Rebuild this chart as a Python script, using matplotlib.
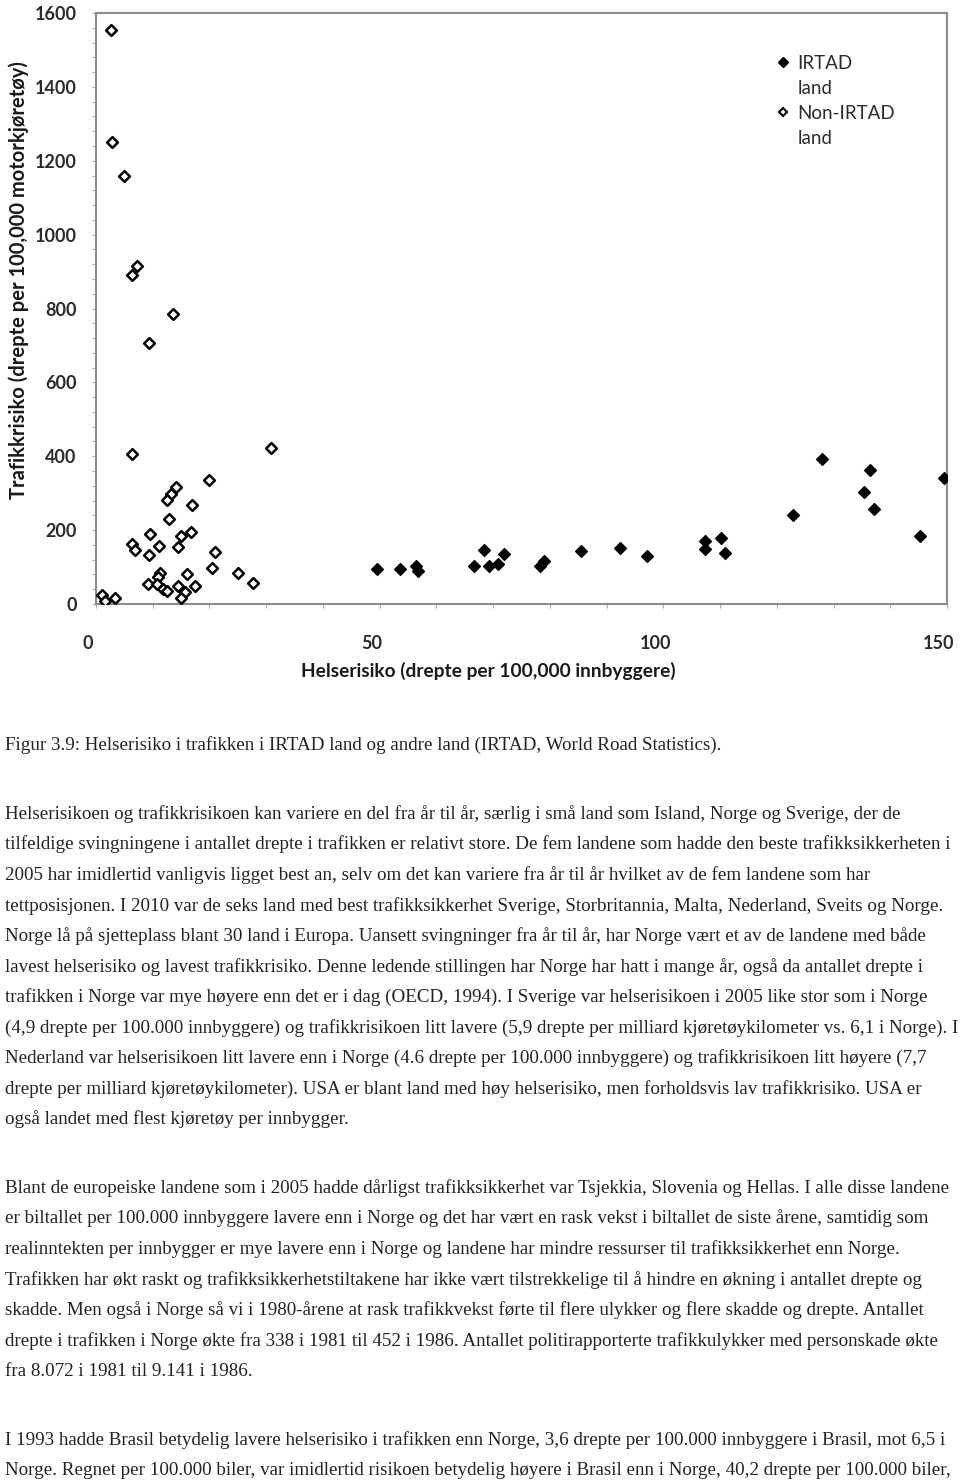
import matplotlib
matplotlib.use("Agg")
import matplotlib.pyplot as plt
from matplotlib.lines import Line2D
from matplotlib.ticker import MultipleLocator
import matplotlib.transforms as mtransforms

# IRTAD countries (filled diamonds)
irtad_x = [49.6, 53.6, 56.4, 56.7, 66.6, 68.4, 69.3, 70.9, 71.9, 78.3, 78.9, 85.4, 92.4, 97.2,
           107.4, 107.4, 110.1, 110.9, 122.9, 128.0, 136.4, 135.4, 137.2, 145.2, 149.5]
irtad_y = [95, 95, 103, 88, 104, 146, 103, 108, 136, 104, 117, 143, 151, 130,
           171, 148, 179, 137, 241, 392, 363, 303, 258, 184, 342]

# non-IRTAD countries (open diamonds)
non_x = [2.6, 2.8, 5.0, 7.3, 6.4, 13.6, 9.3, 6.3, 30.8, 20.0, 14.1, 13.3, 12.6, 16.9, 12.9,
         9.6, 16.7, 14.9, 6.3, 6.8, 11.1, 14.5, 9.4, 21.0, 20.5, 25.1, 27.7, 11.2, 11.0, 16.0,
         9.2, 10.8, 11.8, 12.6, 14.4, 17.5, 15.7, 14.9, 1.1, 1.6, 3.3]
non_y = [1555, 1250, 1159, 915, 891, 786, 707, 407, 423, 336, 316, 298, 282, 268, 230,
         189, 196, 184, 163, 145, 156, 155, 133, 142, 97, 85, 56, 83, 72, 80,
         53, 53, 40, 35, 49, 49, 33, 17, 25, 8, 16]

caption = "Figur 3.9: Helserisiko i trafikken i IRTAD land og andre land (IRTAD, World Road Statistics)."

para1 = [
    "Helserisikoen og trafikkrisikoen kan variere en del fra år til år, særlig i små land som Island, Norge og Sverige, der de",
    "tilfeldige svingningene i antallet drepte i trafikken er relativt store. De fem landene som hadde den beste trafikksikkerheten i",
    "2005 har imidlertid vanligvis ligget best an, selv om det kan variere fra år til år hvilket av de fem landene som har",
    "tettposisjonen. I 2010 var de seks land med best trafikksikkerhet Sverige, Storbritannia, Malta, Nederland, Sveits og Norge.",
    "Norge lå på sjetteplass blant 30 land i Europa. Uansett svingninger fra år til år, har Norge vært et av de landene med både",
    "lavest helserisiko og lavest trafikkrisiko. Denne ledende stillingen har Norge har hatt i mange år, også da antallet drepte i",
    "trafikken i Norge var mye høyere enn det er i dag (OECD, 1994). I Sverige var helserisikoen i 2005 like stor som i Norge",
    "(4,9 drepte per 100.000 innbyggere) og trafikkrisikoen litt lavere (5,9 drepte per milliard kjøretøykilometer vs. 6,1 i Norge). I",
    "Nederland var helserisikoen litt lavere enn i Norge (4.6 drepte per 100.000 innbyggere) og trafikkrisikoen litt høyere (7,7",
    "drepte per milliard kjøretøykilometer). USA er blant land med høy helserisiko, men forholdsvis lav trafikkrisiko. USA er",
    "også landet med flest kjøretøy per innbygger.",
]
para2 = [
    "Blant de europeiske landene som i 2005 hadde dårligst trafikksikkerhet var Tsjekkia, Slovenia og Hellas. I alle disse landene",
    "er biltallet per 100.000 innbyggere lavere enn i Norge og det har vært en rask vekst i biltallet de siste årene, samtidig som",
    "realinntekten per innbygger er mye lavere enn i Norge og landene har mindre ressurser til trafikksikkerhet enn Norge.",
    "Trafikken har økt raskt og trafikksikkerhetstiltakene har ikke vært tilstrekkelige til å hindre en økning i antallet drepte og",
    "skadde. Men også i Norge så vi i 1980-årene at rask trafikkvekst førte til flere ulykker og flere skadde og drepte. Antallet",
    "drepte i trafikken i Norge økte fra 338 i 1981 til 452 i 1986. Antallet politirapporterte trafikkulykker med personskade økte",
    "fra 8.072 i 1981 til 9.141 i 1986.",
]
para3 = [
    "I 1993 hadde Brasil betydelig lavere helserisiko i trafikken enn Norge, 3,6 drepte per 100.000 innbyggere i Brasil, mot 6,5 i",
    "Norge. Regnet per 100.000 biler, var imidlertid risikoen betydelig høyere i Brasil enn i Norge, 40,2 drepte per 100.000 biler,",
]

W, H = 960, 1481
fig = plt.figure(figsize=(W / 100, H / 100), dpi=100)
ax = fig.add_axes([96 / W, 1 - 604 / H, (947 - 96) / W, (604 - 13) / H])

ax.scatter(non_x, non_y, marker="D", s=30, facecolors="white", edgecolors="black",
           linewidths=1.8, zorder=3)
ax.scatter(irtad_x, irtad_y, marker="D", s=36, color="black", zorder=4)

ax.set_xlim(0, 150)
ax.set_ylim(0, 1600)
ax.xaxis.set_major_locator(MultipleLocator(50))
ax.xaxis.set_minor_locator(MultipleLocator(10))
ax.yaxis.set_major_locator(MultipleLocator(200))
ax.yaxis.set_minor_locator(MultipleLocator(40))

for s in ax.spines.values():
    s.set_color("#8c8c8c")
    s.set_linewidth(1.5)

tickfont = dict(family="Lato", weight="bold", size=13)
ax.tick_params(axis="both", which="both", direction="out", colors="#b0b0b0", length=3, width=0.8)
ax.tick_params(axis="y", which="major", pad=11, labelcolor="#2b2b2b")
ax.tick_params(axis="x", which="major", pad=19, labelcolor="#2b2b2b")
for lab in ax.get_xticklabels() + ax.get_yticklabels():
    lab.set_fontproperties(tickfont)
shift = mtransforms.ScaledTranslation(-8 / 100, 0, fig.dpi_scale_trans)
for lab in ax.get_xticklabels():
    lab.set_transform(lab.get_transform() + shift)

ax.set_xlabel("Helserisiko (drepte per 100,000 innbyggere)", family="Lato", weight="bold",
              size=13.8, color="#1a1a1a")
ax.xaxis.set_label_coords((488 - 96) / 851, (604 - 662) / 591)
ax.set_ylabel("Trafikkrisiko (drepte per 100,000 motorkjøretøy)", family="Lato", weight="bold",
              size=14.5, color="#1a1a1a")
ax.yaxis.set_label_coords((29 - 96) / 851, (604 - 280) / 591)

blank = Line2D([], [], linestyle="none", marker=None)
handles = [
    Line2D([], [], linestyle="none", marker="D", markersize=5, color="black"),
    blank,
    Line2D([], [], linestyle="none", marker="D", markersize=4.5, markerfacecolor="white",
           markeredgecolor="black", markeredgewidth=1.5),
    blank,
]
leg = ax.legend(handles, ["IRTAD", "land", "Non-IRTAD", "land"], loc="upper left",
                bbox_to_anchor=(776 / W, 1 - 55 / H), bbox_transform=fig.transFigure,
                frameon=False, handlelength=0.7, handletextpad=0.45, labelspacing=0.42,
                borderaxespad=0, borderpad=0,
                prop=dict(family="Lato", size=13.5))
for t in leg.get_texts():
    t.set_color("#2b2b2b")

textfont = dict(family="Liberation Serif", size=13.7, color="#222222", va="center", ha="left")
fig.text(5 / W, 1 - 745 / H, caption, **textfont)
step = 30.55
for i, line in enumerate(para1):
    fig.text(5 / W, 1 - (814 + i * step) / H, line, **textfont)
for i, line in enumerate(para2):
    fig.text(5 / W, 1 - (1188 + i * step) / H, line, **textfont)
for i, line in enumerate(para3):
    fig.text(5 / W, 1 - (1440 + i * step) / H, line, **textfont)

fig.savefig("out.png", dpi=100, facecolor="white")
